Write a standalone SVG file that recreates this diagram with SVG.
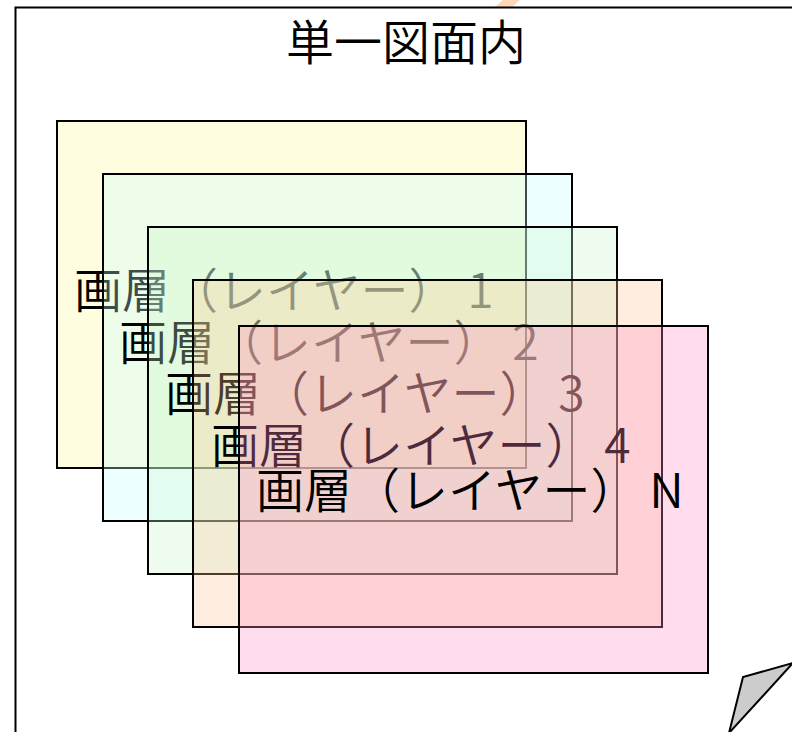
<svg xmlns="http://www.w3.org/2000/svg" width="792" height="732" viewBox="0 0 792 732">
<style>
.layer rect{stroke:#000;stroke-width:2;fill-opacity:0.3}
text{font-family:"Noto Sans CJK JP","Noto Sans",sans-serif;font-size:48px;font-weight:350;fill:#000}
</style>
<rect width="792" height="732" fill="#fff"/>
<polygon points="495,7 503,0 520,0 512,7" fill="#fad8b8"/>
<g id="page">
<path d="M15.5,732 V7.5 H792" fill="none" stroke="#000" stroke-width="2"/>
<polygon points="729,733 743,677 793,663" fill="#ccc" stroke="#000" stroke-width="2" stroke-linejoin="miter"/>
<text x="406" y="60" text-anchor="middle">単一図面内</text>
</g>
<g id="layer1" class="layer">
<rect x="57" y="121" width="469" height="347" fill="#fff898"/>
<text x="74" y="308">画層（レイヤー） 1</text>
</g>
<g id="layer2" class="layer">
<rect x="103" y="174" width="469" height="347" fill="#c6ffff"/>
<text x="119" y="360">画層（レイヤー） 2</text>
</g>
<g id="layer3" class="layer">
<rect x="148" y="227" width="469" height="347" fill="#c6f8ca"/>
<text x="165" y="411">画層（レイヤー） 3</text>
</g>
<g id="layer4" class="layer">
<rect x="193" y="280" width="469" height="347" fill="#ffc694"/>
<text x="211" y="463">画層（レイヤー） 4</text>
</g>
<g id="layer5" class="layer">
<rect x="239" y="326" width="469" height="347" fill="#ff8fc6"/>
<text x="256" y="508">画層（レイヤー） N</text>
</g>
<g id="connectors"></g>
</svg>
